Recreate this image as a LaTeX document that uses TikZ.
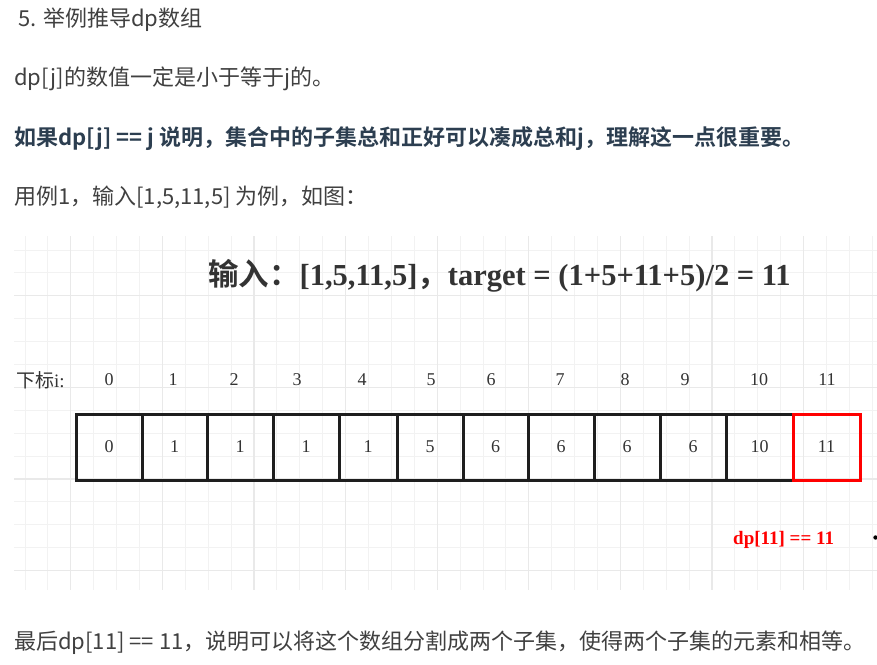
\documentclass[tikz,border=0pt]{standalone}
\usepackage{fontspec}
\setmainfont{Liberation Serif}
\newfontfamily\cjk{Noto Sans CJK SC}[BoldFont={Noto Sans CJK SC Bold}]
\definecolor{bodytxt}{HTML}{404040}
\definecolor{boldtxt}{HTML}{2C3E50}
\definecolor{gridminor}{HTML}{F2F2F2}
\definecolor{gridmajor}{HTML}{E9E9E9}
\definecolor{cellline}{HTML}{1E1E1E}
\definecolor{idxtxt}{HTML}{333333}
\begin{document}
\begin{tikzpicture}[x=1pt,y=-1pt,
  bodyline/.style={anchor=base west,inner sep=0pt,text=bodytxt,font=\cjk\fontsize{22}{24}\selectfont},
  boldline/.style={anchor=base west,inner sep=0pt,text=boldtxt,font=\cjk\bfseries\fontsize{22}{24}\selectfont},
  idx/.style={inner sep=0pt,text=idxtxt,font=\fontsize{18}{20}\selectfont},
  cellbox/.style={draw=cellline,line width=3pt,minimum height=66pt,inner sep=0pt,text=idxtxt,font=\fontsize{18}{20}\selectfont},
  hitbox/.style={cellbox,draw=red}
]
\useasboundingbox (0,0) rectangle (877,664);
\fill[white] (0,0) rectangle (877,664);
% grid
\foreach \k in {0,...,37}{
  \draw[gridminor,line width=1pt] ({25+22.9*\k},236) -- ({25+22.9*\k},590);
}
\foreach \k in {0,...,14}{
  \draw[gridminor,line width=1pt] (14,{250+22.9*\k}) -- (877,{250+22.9*\k});
}
\foreach \k in {2,6,...,34}{
  \draw[gridmajor,line width=1.3pt] ({25+22.9*\k},236) -- ({25+22.9*\k},590);
}
\foreach \k in {2,6,10,14}{
  \draw[gridmajor,line width=1.3pt] (14,{250+22.9*\k}) -- (877,{250+22.9*\k});
}
% text lines
\node[bodyline] (t1) at (18,26) {5. 举例推导dp数组};
\node[bodyline] (t2) at (14,85) {dp[j]的数值一定是小于等于j的。};
\node[boldline] (t3) at (14,145) {如果dp[j] == j 说明，集合中的子集总和正好可以凑成总和j，理解这一点很重要。};
\node[bodyline] (t4) at (14,204) {用例1，输入[1,5,11,5] 为例，如图：};
\node[bodyline] (t5) at (14,649) {最后dp[11] == 11，说明可以将这个数组分割成两个子集，使得两个子集的元素和相等。};
% title
\node[anchor=base west,inner sep=0pt,text=idxtxt,font=\bfseries\fontsize{30.5}{34}\selectfont] (title) at (208,285)
  {{\cjk 输入：}[1,5,11,5]{\cjk ，}target = (1+5+11+5)/2 = 11};
% index labels
\node[anchor=west,inner sep=0pt,text=idxtxt,font=\cjk\fontsize{19}{22}\selectfont] (lbl) at (16,380) {下标\fontspec{Liberation Serif}i:};
\foreach \v [count=\i from 0] in {109,173,234,297,362,431,491,560,625,685,759,827}{
  \node[idx] (i\i) at (\v,380) {\i};
}
% cells
\foreach \l/\r/\t [count=\i from 0] in {76/142/0,142/207/1,207/273/1,273/339/1,339/397/1,397/463/5,463/528/6,528/594/6,594/660/6,660/726/6,726/793/10}{
  \node[cellbox,minimum width={\r-\l}] (c\i) at ({(\l+\r)/2},447) {\t};
}
\node[hitbox,minimum width=67pt] (c11) at (826.5,447) {11};
% red note
\node[anchor=base west,inner sep=0pt,text=red,font=\bfseries\fontsize{19}{22}\selectfont] (note) at (733,544) {dp[11] == 11};
\fill[black] (875.5,537.5) circle (2.2pt);
\end{tikzpicture}
\end{document}
